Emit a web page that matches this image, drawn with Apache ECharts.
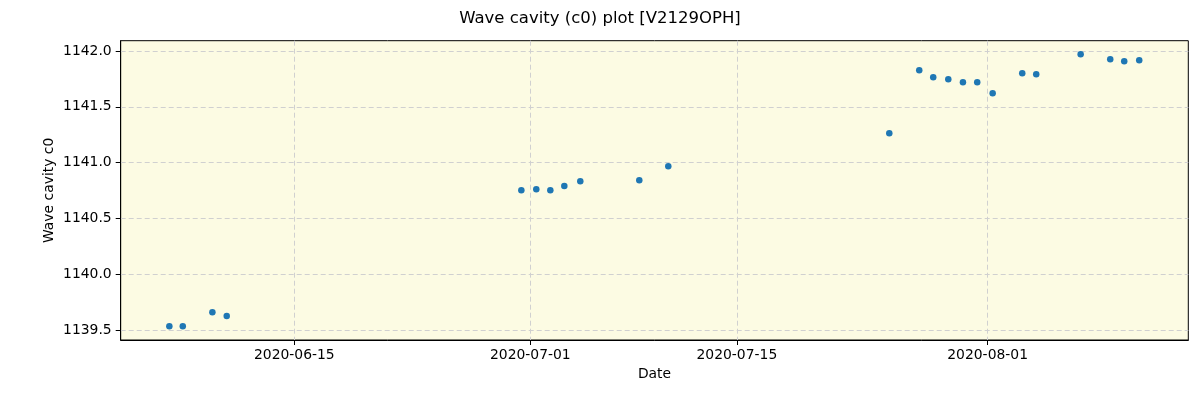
<!DOCTYPE html>
<html>
<head>
<meta charset="utf-8">
<script src="https://cdn.jsdelivr.net/npm/echarts@6/dist/echarts.min.js"></script>
<style>
  html, body { margin: 0; padding: 0; background: #fff; }
  #chart { width: 1200px; height: 400px; }
</style>
</head>
<body>
<div id="chart"></div>
<script>
// measurement times (UTC) and wave cavity c0 values
const dates = [
  '2020-06-06 12:40', '2020-06-07 10:30', '2020-06-09 10:40', '2020-06-10 10:00',
  '2020-06-30 09:20', '2020-07-01 09:40', '2020-07-02 08:30', '2020-07-03 07:15',
  '2020-07-04 09:15', '2020-07-08 09:15', '2020-07-10 08:25',
  '2020-07-25 08:00', '2020-07-27 08:45', '2020-07-28 07:30', '2020-07-29 08:00',
  '2020-07-30 07:50', '2020-07-31 07:05', '2020-08-01 08:10', '2020-08-03 08:20',
  '2020-08-04 07:05', '2020-08-07 07:20', '2020-08-09 07:30', '2020-08-10 06:15',
  '2020-08-11 06:40'
];
const values = [
  1139.533, 1139.533, 1139.659, 1139.625,
  1140.752, 1140.761, 1140.752, 1140.790,
  1140.832, 1140.841, 1140.967,
  1141.263, 1141.827, 1141.764, 1141.746,
  1141.719, 1141.719, 1141.621, 1141.800,
  1141.791, 1141.970, 1141.926, 1141.908,
  1141.917
];
const xTickDates = ['2020-06-15', '2020-07-01', '2020-07-15', '2020-08-01'];
const yTicks = [1139.5, 1140.0, 1140.5, 1141.0, 1141.5, 1142.0];

function toMs(s) {
  const [d, t] = s.split(' ');
  const [y, m, day] = d.split('-').map(Number);
  const [hh, mm] = (t || '00:00').split(':').map(Number);
  return Date.UTC(y, m - 1, day, hh, mm);
}
function fmtDate(ms) {
  const d = new Date(ms);
  const p = n => String(n).padStart(2, '0');
  return d.getUTCFullYear() + '-' + p(d.getUTCMonth() + 1) + '-' + p(d.getUTCDate());
}

const points = dates.map((d, i) => [toMs(d), values[i]]);
const xTicks = xTickDates.map(toMs);

const xMin = toMs('2020-06-03 05:30');
const xMax = toMs('2020-08-14 14:30');

const font = 'DejaVu Sans, sans-serif';
const chart = echarts.init(document.getElementById('chart'), null, { renderer: 'canvas' });

chart.setOption({
  backgroundColor: '#ffffff',
  animation: false,
  title: {
    text: 'Wave cavity (c0) plot [V2129OPH]',
    left: 'center',
    top: 5,
    textStyle: { color: '#000', fontSize: 16.5, fontWeight: 'normal', fontFamily: font }
  },
  grid: {
    left: 120.7,
    right: 11.7,
    top: 40.7,
    bottom: 60,
    show: true,
    backgroundColor: '#fcfbe3',
    borderColor: '#000',
    borderWidth: 1
  },
  xAxis: {
    type: 'value',
    min: xMin,
    max: xMax,
    name: 'Date',
    nameLocation: 'middle',
    nameGap: 27,
    nameMoveOverlap: false,
    nameTextStyle: { color: '#000', fontSize: 13.9, fontFamily: font },
    axisLine: { show: true, lineStyle: { color: '#000', width: 1 } },
    axisTick: { show: true, length: 5, lineStyle: { color: '#000' }, customValues: xTicks },
    axisLabel: {
      color: '#000', fontSize: 13.9, fontFamily: font, margin: 8,
      customValues: xTicks,
      formatter: v => fmtDate(v)
    },
    splitLine: { show: true, lineStyle: { color: '#d0d0d0', type: [5, 3], width: 1 } }
  },
  yAxis: {
    type: 'value',
    min: 1139.41,
    max: 1142.092,
    name: 'Wave cavity c0',
    nameLocation: 'middle',
    nameGap: 64,
    nameMoveOverlap: false,
    nameTextStyle: { color: '#000', fontSize: 13.9, fontFamily: font },
    axisLine: { show: true, lineStyle: { color: '#000', width: 1 } },
    axisTick: { show: true, length: 5, lineStyle: { color: '#000' }, customValues: yTicks },
    axisLabel: {
      color: '#000', fontSize: 13.9, fontFamily: font, margin: 9,
      customValues: yTicks,
      formatter: v => v.toFixed(1)
    },
    splitLine: { show: true, lineStyle: { color: '#d0d0d0', type: [5, 3], width: 1 } }
  },
  series: [{
    type: 'scatter',
    data: points,
    symbol: 'circle',
    symbolSize: 6.5,
    itemStyle: { color: '#1f77b4', opacity: 1 }
  }]
});
</script>
</body>
</html>
